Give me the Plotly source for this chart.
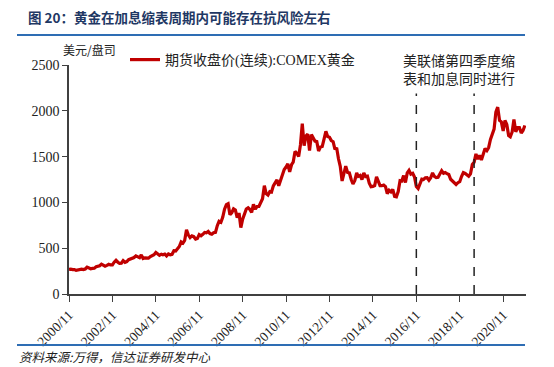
import plotly.graph_objects as go

# ---- data (monthly) ----
start_year, start_month = 2000, 11
prices = [
    269, 272,
    266, 267, 258, 264, 266, 271, 266, 273, 293, 279, 275, 279,
    282, 297, 302, 309, 326, 318, 304, 312, 324, 317, 318, 347,
    368, 347, 334, 336, 364, 346, 354, 375, 384, 386, 398, 416,
    402, 396, 427, 388, 395, 395, 391, 408, 418, 429, 453, 438,
    423, 435, 428, 436, 416, 437, 429, 434, 473, 470, 496, 518,
    569, 556, 584, 700, 646, 616, 634, 626, 600, 607, 648, 636,
    652, 672, 669, 683, 660, 652, 668, 673, 746, 794, 783, 838,
    926, 975, 985, 865, 887, 930, 918, 834, 884, 725, 816, 884,
    928, 942, 924, 891, 979, 927, 955, 955, 1008, 1040, 1182, 1097,
    1081, 1118, 1113, 1180, 1213, 1245, 1181, 1248, 1309, 1359, 1386, 1421,
    1333, 1411, 1439, 1556, 1536, 1502, 1628, 1860, 1620, 1725, 1746, 1566,
    1740, 1711, 1669, 1664, 1561, 1604, 1610, 1692, 1776, 1719, 1712, 1675,
    1663, 1578, 1596, 1476, 1393, 1234, 1312, 1396, 1327, 1323, 1250, 1202,
    1240, 1322, 1284, 1295, 1250, 1322, 1282, 1287, 1210, 1171, 1175, 1184,
    1279, 1213, 1183, 1183, 1190, 1172, 1095, 1132, 1115, 1142, 1065, 1061,
    1118, 1238, 1234, 1293, 1217, 1322, 1350, 1309, 1317, 1277, 1173, 1152,
    1211, 1254, 1249, 1268, 1269, 1242, 1269, 1322, 1284, 1271, 1275, 1309,
    1345, 1318, 1327, 1315, 1305, 1253, 1233, 1206, 1196, 1215, 1226, 1282,
    1325, 1316, 1298, 1285, 1311, 1413, 1437, 1529, 1472, 1514, 1463, 1523,
    1589, 1566, 1597, 1687, 1751, 1800, 1986, 2040, 1895, 1879, 1780, 1895,
    1850, 1729, 1716, 1769, 1906, 1771, 1817, 1817, 1757, 1784, 1840,
]
months = []
for i in range(len(prices)):
    mm = start_month - 1 + i
    months.append(f"{start_year + mm // 12}-{mm % 12 + 1:02d}-01")

series_name = "期货收盘价(连续):COMEX黄金"
event_dates = ["2016-11-01", "2019-07-01"]
event_text = "美联储第四季度缩<br>表和加息同时进行"
title_text = "<b>图 20：黄金在加息缩表周期内可能存在抗风险左右</b>"
unit_text = "美元/盘司"
source_text = "<i>资料来源:万得，信达证券研发中心</i>"

serif = "Liberation Serif, Noto Sans CJK SC"
cjk = "Noto Sans CJK SC"

W, H = 554, 367
ml, mr, mt, mb = 69, 28, 65, 73
PW, PH = W - ml - mr, H - mt - mb


def px(x):
    return (x - ml) / PW


def py(y):
    return (H - mb - y) / PH


fig = go.Figure()
fig.add_trace(go.Scatter(x=months, y=prices, mode="lines", name=series_name,
                         line=dict(color="#C00000", width=3.2)))

for d in event_dates:
    fig.add_shape(type="line", x0=d, x1=d, y0=0, y1=2190, xref="x", yref="y",
                  line=dict(color="#222222", width=1.5, dash="dash"))

fig.update_layout(
    width=W, height=H,
    margin=dict(l=ml, r=mr, t=mt, b=mb, autoexpand=False),
    plot_bgcolor="white", paper_bgcolor="white",
    showlegend=True,
    legend=dict(x=px(125), y=py(60), xanchor="left", yanchor="middle",
                bgcolor="rgba(0,0,0,0)", borderwidth=0,
                font=dict(family=serif, size=14, color="#222222")),
    xaxis=dict(range=["2000-11-01", "2021-11-20"], type="date", automargin=False,
               tick0="2000-11-01", dtick="M24", tickformat="%Y/%m",
               tickangle=-45, ticks="outside", ticklen=6, tickcolor="#404040",
               showline=True, linecolor="#404040", linewidth=1.5,
               showgrid=False, zeroline=False,
               tickfont=dict(family="Liberation Serif", size=13.5, color="#222222")),
    yaxis=dict(range=[0, 2500], dtick=500, ticks="outside", ticklen=5, automargin=False,
               tickcolor="#404040", showline=True, linecolor="#404040", linewidth=1.5,
               showgrid=False, zeroline=False,
               tickfont=dict(family="Liberation Serif", size=14, color="#222222")),
)

fig.add_annotation(x=px(26), y=py(17), xref="paper", yref="paper", xanchor="left",
                   yanchor="middle", text=title_text, showarrow=False,
                   font=dict(family=cjk, size=13.5, color="#1F3864"))
fig.add_annotation(x=px(61), y=py(49), xref="paper", yref="paper", xanchor="left",
                   yanchor="middle", text=unit_text, showarrow=False,
                   font=dict(family=cjk, size=12, color="#222222"))
fig.add_annotation(x=px(459), y=py(69), xref="paper", yref="paper", xanchor="center",
                   yanchor="middle", text=event_text, showarrow=False,
                   font=dict(family=cjk, size=14, color="#222222"))
fig.add_annotation(x=px(17), y=py(356), xref="paper", yref="paper", xanchor="left",
                   yanchor="middle", text=source_text, showarrow=False,
                   font=dict(family=cjk, size=12.5, color="#222222"))

fig.add_shape(type="line", xref="paper", yref="paper", x0=px(17), x1=px(525),
              y0=py(35), y1=py(35), line=dict(color="#2E6DB4", width=2))
fig.add_shape(type="line", xref="paper", yref="paper", x0=px(17), x1=px(525),
              y0=py(345), y1=py(345), line=dict(color="#2E6DB4", width=2))

fig.write_html("out.html", config={"displayModeBar": False},
               post_script="document.body.style.margin='0';document.body.style.padding='0';")
